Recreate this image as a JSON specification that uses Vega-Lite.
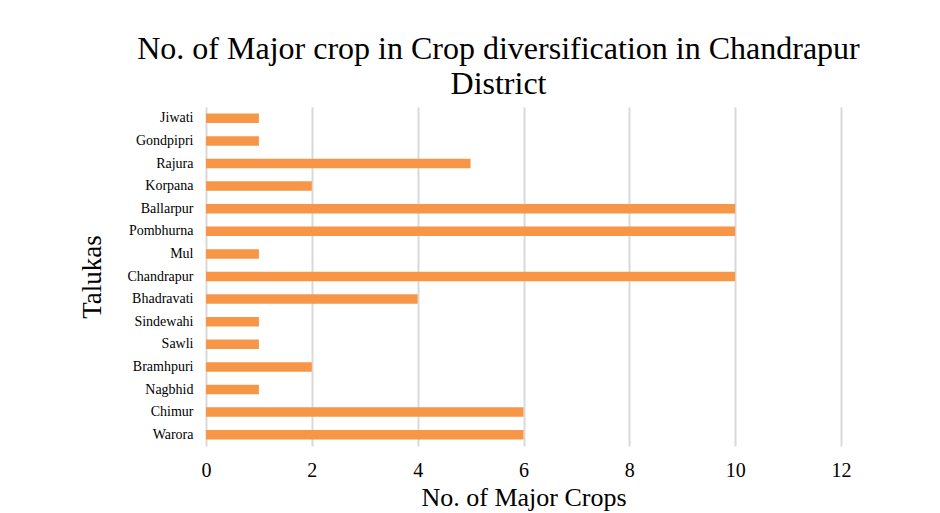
{
  "$schema": "https://vega.github.io/schema/vega-lite/v6.json",
  "width": 635,
  "height": 339,
  "autosize": "none",
  "padding": {"left": 206, "top": 107, "right": 99, "bottom": 67},
  "background": "white",
  "title": {
    "text": ["No. of Major crop in Crop diversification in Chandrapur", "District"],
    "font": "'Liberation Serif', 'Times New Roman', Times, serif",
    "fontSize": 32,
    "fontWeight": "normal",
    "color": "#000000",
    "lineHeight": 35,
    "anchor": "middle",
    "dx": -25,
    "offset": 6
  },
  "data": {
    "values": [
      {"taluka": "Jiwati", "crops": 1},
      {"taluka": "Gondpipri", "crops": 1},
      {"taluka": "Rajura", "crops": 5},
      {"taluka": "Korpana", "crops": 2},
      {"taluka": "Ballarpur", "crops": 10},
      {"taluka": "Pombhurna", "crops": 10},
      {"taluka": "Mul", "crops": 1},
      {"taluka": "Chandrapur", "crops": 10},
      {"taluka": "Bhadravati", "crops": 4},
      {"taluka": "Sindewahi", "crops": 1},
      {"taluka": "Sawli", "crops": 1},
      {"taluka": "Bramhpuri", "crops": 2},
      {"taluka": "Nagbhid", "crops": 1},
      {"taluka": "Chimur", "crops": 6},
      {"taluka": "Warora", "crops": 6}
    ]
  },
  "mark": {"type": "bar", "color": "#F79646"},
  "encoding": {
    "y": {
      "field": "taluka",
      "type": "nominal",
      "sort": null,
      "title": "Talukas",
      "scale": {"paddingInner": 0.58, "paddingOuter": 0.29},
      "axis": {
        "domain": false,
        "ticks": false,
        "grid": false,
        "labelFont": "'Liberation Serif', 'Times New Roman', Times, serif",
        "labelFontSize": 14,
        "labelColor": "#000000",
        "labelPadding": 13,
        "titleFont": "'Liberation Serif', 'Times New Roman', Times, serif",
        "titleFontSize": 27,
        "titleFontWeight": "normal",
        "titleColor": "#000000",
        "titlePadding": 20
      }
    },
    "x": {
      "field": "crops",
      "type": "quantitative",
      "title": "No. of Major Crops",
      "scale": {"domain": [0, 12], "nice": false},
      "axis": {
        "values": [0, 2, 4, 6, 8, 10, 12],
        "domain": false,
        "ticks": false,
        "grid": true,
        "gridColor": "#d9d9d9",
        "gridWidth": 2,
        "labelFont": "'Liberation Serif', 'Times New Roman', Times, serif",
        "labelFontSize": 20,
        "labelColor": "#000000",
        "labelPadding": 14,
        "labelFlush": false,
        "titleFont": "'Liberation Serif', 'Times New Roman', Times, serif",
        "titleFontSize": 26,
        "titleFontWeight": "normal",
        "titleColor": "#000000",
        "titlePadding": 4
      }
    }
  },
  "config": {"view": {"stroke": null}}
}
